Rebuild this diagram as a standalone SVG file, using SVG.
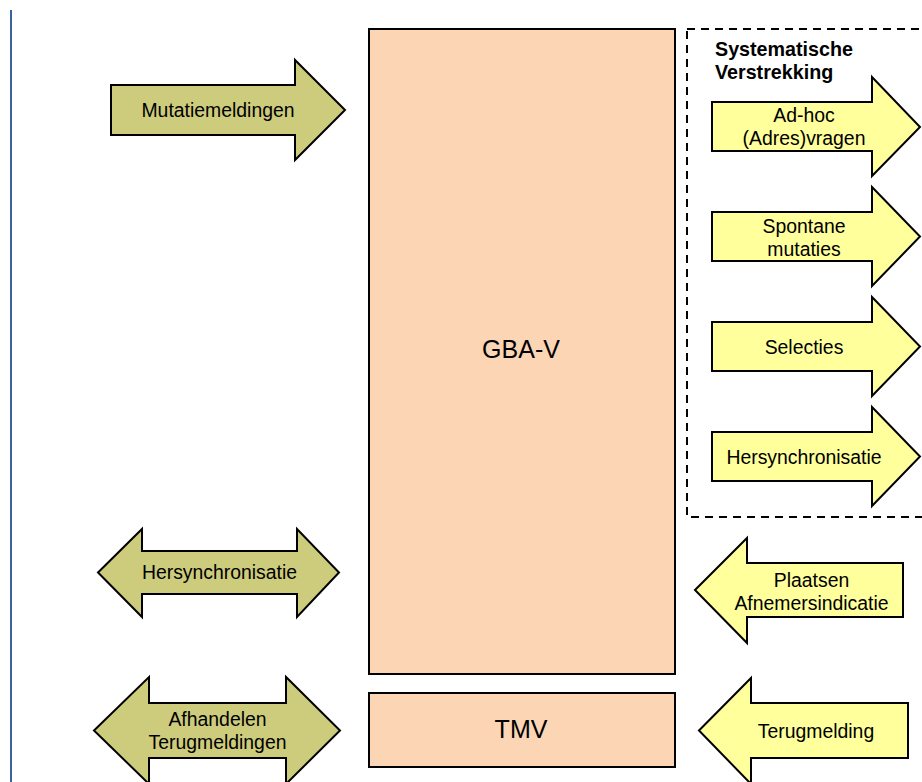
<svg xmlns="http://www.w3.org/2000/svg" width="922" height="782" viewBox="0 0 922 782">
<style>
  .olive { fill: #cdcc7c; stroke: #000; stroke-width: 2; stroke-linejoin: miter; }
  .yellow { fill: #ffff9c; stroke: #000; stroke-width: 2; stroke-linejoin: miter; }
  .box { fill: #fcd5b4; stroke: #000; stroke-width: 2; }
  .lbl { font-family: "Liberation Sans", Arial, Helvetica, sans-serif; font-size: 19.4px; fill: #000; text-anchor: middle; }
  .big { font-family: "Liberation Sans", Arial, Helvetica, sans-serif; font-size: 25px; fill: #000; text-anchor: middle; }
  .title { font-family: "Liberation Sans", Arial, Helvetica, sans-serif; font-size: 19.7px; font-weight: bold; fill: #000; }
</style>
<rect width="922" height="782" fill="#ffffff"/>
<line x1="11" y1="10" x2="11" y2="782" stroke="#3a62a0" stroke-width="2"/>

<g id="gba-v">
  <rect class="box" x="369" y="29" width="306" height="645"/>
  <text class="big" x="521" y="358">GBA-V</text>
</g>
<g id="tmv">
  <rect class="box" x="369" y="693" width="306" height="74"/>
  <text class="big" x="521" y="738">TMV</text>
</g>

<g id="systematische-verstrekking">
  <rect x="687" y="29" width="245" height="488" fill="none" stroke="#000" stroke-width="2" stroke-dasharray="8,6"/>
  <text class="title" x="715" y="56">Systematische</text>
  <text class="title" x="715" y="79">Verstrekking</text>
</g>

<g id="connectors">
  <g id="mutatiemeldingen">
    <polygon class="olive" points="111,85 295,85 295,60 345,110 295,160 295,135 111,135"/>
    <text class="lbl" x="218" y="117">Mutatiemeldingen</text>
  </g>
  <g id="hersynchronisatie-links">
    <polygon class="olive" points="98,572.5 142,529 142,551 297,551 297,529 339,572.5 297,617 297,594 142,594 142,617"/>
    <text class="lbl" x="219.5" y="579">Hersynchronisatie</text>
  </g>
  <g id="afhandelen-terugmeldingen">
    <polygon class="olive" points="94,730.5 149,677 149,703 286,703 286,677 340,730.5 286,784 286,758 149,758 149,784"/>
    <text class="lbl" x="217.5" y="725.5">Afhandelen</text>
    <text class="lbl" x="217.5" y="748.5">Terugmeldingen</text>
  </g>
  <g id="ad-hoc-vragen">
    <polygon class="yellow" points="712,102 872,102 872,77 920,127 872,176 872,151 712,151"/>
    <text class="lbl" x="804" y="122">Ad-hoc</text>
    <text class="lbl" x="804" y="145">(Adres)vragen</text>
  </g>
  <g id="spontane-mutaties">
    <polygon class="yellow" points="712,212 872,212 872,187 920,236.5 872,286 872,261 712,261"/>
    <text class="lbl" x="804" y="232.5">Spontane</text>
    <text class="lbl" x="804" y="255.5">mutaties</text>
  </g>
  <g id="selecties">
    <polygon class="yellow" points="712,322 872,322 872,297 920,346.5 872,396 872,371 712,371"/>
    <text class="lbl" x="804" y="353.5">Selecties</text>
  </g>
  <g id="hersynchronisatie-rechts">
    <polygon class="yellow" points="712,432 872,432 872,407 920,456.5 872,506 872,481 712,481"/>
    <text class="lbl" x="804" y="463.5">Hersynchronisatie</text>
  </g>
  <g id="plaatsen-afnemersindicatie">
    <polygon class="yellow" points="695,590 747,538 747,563 903,563 903,617 747,617 747,643"/>
    <text class="lbl" x="811.5" y="587">Plaatsen</text>
    <text class="lbl" x="811.5" y="610">Afnemersindicatie</text>
  </g>
  <g id="terugmelding">
    <polygon class="yellow" points="699,730.5 751,678 751,703 908,703 908,758 751,758 751,784"/>
    <text class="lbl" x="816" y="738">Terugmelding</text>
  </g>
</g>
</svg>
